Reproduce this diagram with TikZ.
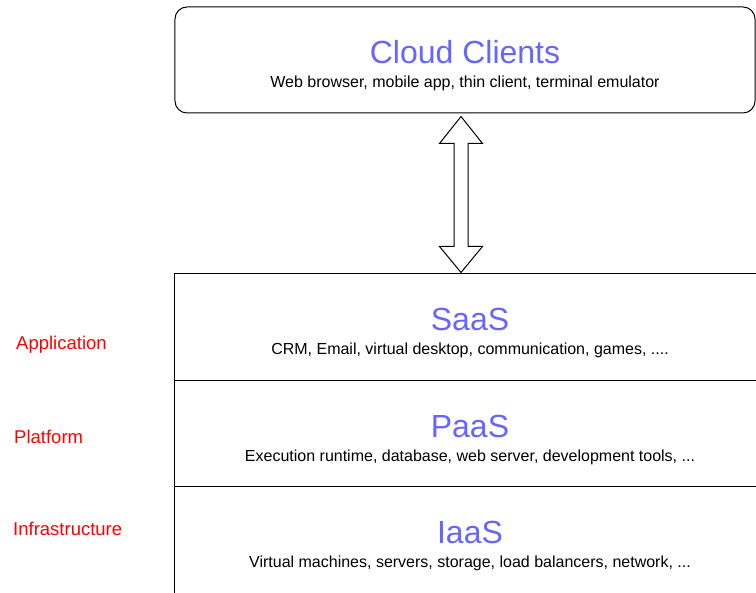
\documentclass[tikz,border=0pt]{standalone}
\usepackage{fontspec}
\setmainfont{Liberation Sans}
\usetikzlibrary{calc}
\definecolor{titleblue}{RGB}{102,102,255}
\newcommand{\ttl}[1]{{\color{titleblue}\fontsize{32bp}{24bp}\selectfont\rule{0pt}{34bp}#1}}
\begin{document}
\begin{tikzpicture}[x=1bp, y=1bp,
  every node/.style = {inner sep=0pt},
  layer/.style = {draw, line width=1bp, shape=rectangle, align=center,
    minimum width=590bp, minimum height=106.5bp,
    font=\fontsize{16bp}{24bp}\selectfont},
  side/.style = {anchor=base west, text=red, font=\fontsize{18.5bp}{22bp}\selectfont},
  hollow/.style = {draw, line width=1bp, fill=white}]
\useasboundingbox (0,0) rectangle (756,593);
\clip (0,0) rectangle (756,593);
\node[layer, rounded corners=12bp, minimum width=580bp, minimum height=106bp] (clients) at (465,533)
  {\ttl{Cloud Clients}\\Web browser, mobile app, thin client, terminal emulator};
\node[layer] (saas) at (470,265.75) {\ttl{SaaS}\\CRM, Email, virtual desktop, communication, games, ....};
\node[layer] (paas) at (470,159.25) {\ttl{PaaS}\\Execution runtime, database, web server, development tools, ...};
\node[layer] (iaas) at (470,52.75) {\ttl{IaaS}\\Virtual machines, servers, storage, load balancers, network, ...};
\node[side] (app) at (16,243.7) {Application};
\node[side] (plat) at (14,149) {Platform};
\node[side] (infra) at (13,57) {Infrastructure};
\path (clients.south) ++(-4,-3) coordinate (up);
\path (saas.north) ++(-9,1) coordinate (dn);
\draw[hollow] (up) -- ++(21.5,-27) -- ++(-14.5,0) -- ($(dn)+(7,26)$) -- ++(14.5,0) -- (dn)
  -- ++(-21.5,26) -- ++(14.5,0) -- ($(up)+(-7,-27)$) -- ++(-14.5,0) -- cycle;
\end{tikzpicture}
\end{document}
